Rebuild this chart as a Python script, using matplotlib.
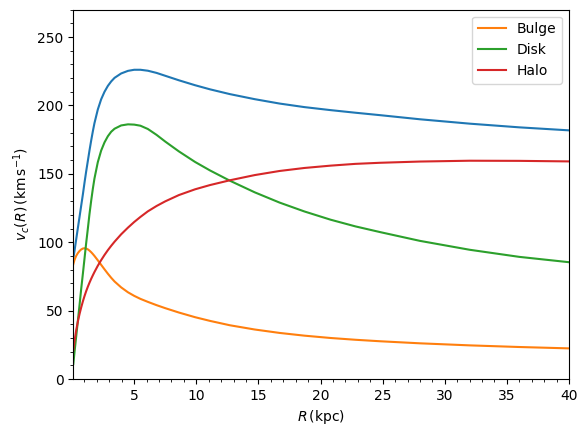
import matplotlib
matplotlib.use("Agg")
import matplotlib.pyplot as plt

# radius grid (kpc) and circular velocities (km/s)
radius = [0.1, 0.2, 0.33, 0.46, 0.6, 0.73, 0.87, 1.0, 1.13, 1.27, 1.4, 1.54, 1.67, 1.8,
          2.07, 2.34, 2.61, 2.88, 3.15, 3.42, 3.95, 4.5, 5.0, 5.5, 6.1, 6.8, 7.5, 8.6,
          9.9, 11.1, 12.7, 14.7, 16.7, 18.7, 20.8, 22.8, 24.8, 28.0, 32.0, 36.0, 40.0]

v_total = [88, 94, 102, 110, 118.5, 126.5, 135, 143.5, 151.5, 159.5, 167, 174.5, 181, 187,
           197, 204.5, 210, 214.3, 217.6, 220.2, 223.4, 225.3, 226.1, 226.1, 225.4, 223.8, 221.7, 218.4,
           214.8, 211.8, 208.3, 204.6, 201.4, 198.8, 196.6, 194.7, 192.9, 189.9, 186.7, 184.0, 181.8]

v_bulge = [84, 87.2, 90, 92, 93.6, 94.7, 95.4, 95.6, 95.4, 94.8, 93.9, 92.7, 91.4, 90,
           86.8, 83.5, 80.2, 77, 74, 71.3, 67, 63.4, 60.8, 58.6, 56.4, 54, 51.8, 48.6,
           45.2, 42.5, 39.3, 36.2, 33.7, 31.7, 30, 28.7, 27.6, 26.1, 24.6, 23.4, 22.4]

v_disk = [11, 20, 31, 42, 54, 65.5, 77, 88, 99, 110, 120.5, 130.5, 139, 146.5,
          158.5, 167, 173, 177.5, 180.8, 183, 185.4, 186.2, 186, 185.2, 182.8, 178.5, 173.6, 166.4,
          158.7, 152.5, 145, 136.5, 129, 122.5, 116.5, 111.6, 107.4, 101.0, 94.5, 89.3, 85.4]

v_halo = [21, 28, 35.5, 41.8, 47.5, 52.2, 56.8, 60.6, 64.1, 67.5, 70.4, 73.3, 75.8, 78.2,
          82.8, 86.9, 90.7, 94.2, 97.4, 100.4, 105.8, 110.7, 114.8, 118.5, 122.6, 126.5, 129.9, 134.5,
          138.7, 141.8, 145.3, 149.1, 152.1, 154.3, 156, 157.3, 158.1, 159.0, 159.6, 159.5, 159.1]

fig = plt.figure(figsize=(5.87, 4.36), dpi=100)
ax = fig.add_axes([0.1249, 0.1307, 0.8445, 0.847])

ax.plot(radius, v_total, color="C0")
ax.plot(radius, v_bulge, color="C1", label="Bulge")
ax.plot(radius, v_disk, color="C2", label="Disk")
ax.plot(radius, v_halo, color="C3", label="Halo")

ax.set_xlim(radius[0], 40)
ax.set_ylim(0, 270)
ax.minorticks_on()
ax.set_xlabel(r"$R\,(\mathrm{kpc})$")
ax.set_ylabel(r"$v_c(R)\,(\mathrm{km\,s}^{-1})$")
ax.legend(loc="upper right")

fig.savefig("out.png", dpi=100)
